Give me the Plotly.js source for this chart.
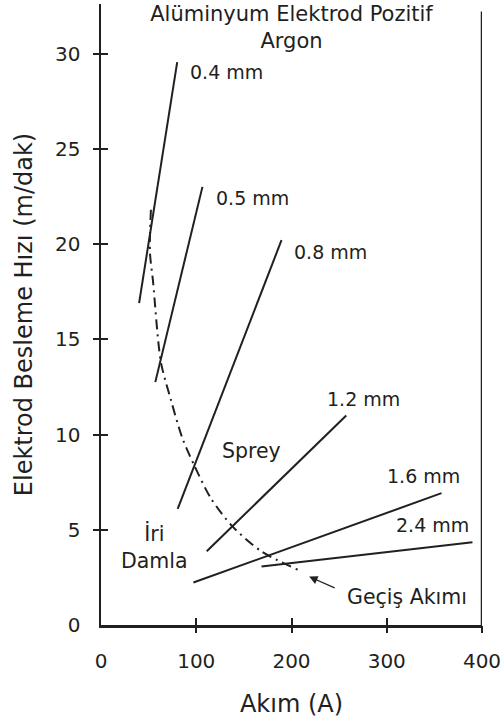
<!DOCTYPE html>
<html>
<head>
<meta charset="utf-8">
<script src="https://cdn.plot.ly/plotly-3.0.1.min.js"></script>
<style>html,body{margin:0;padding:0;background:#fff;}#chart{width:502px;height:722px;}</style>
</head>
<body>
<div id="chart"></div>
<script>
// Wire diameters and their operating lines (current A -> wire feed speed m/dak)
const diameters = ['0.4 mm', '0.5 mm', '0.8 mm', '1.2 mm', '1.6 mm', '2.4 mm'];
const currentStart = [40, 57, 80.5, 111, 97, 168.5];
const currentEnd = [80, 106.5, 189.5, 257.5, 357.5, 390];
const speedStart = [16.9, 12.75, 6.1, 3.87, 2.23, 3.07];
const speedEnd = [29.55, 23.0, 20.2, 11.0, 6.92, 4.35];

// Transition current curve (Geçiş Akımı)
const transitionCurrent = [52.4, 51.4, 54.5, 62.9, 73.4, 85.0, 97.6, 115.4, 138.5, 168.9, 206.6];
const transitionSpeed = [21.8, 19.55, 18.1, 13.8, 11.82, 9.87, 8.41, 6.65, 5.15, 3.85, 2.9];

// Axis ticks
const xTicks = [0, 100, 200, 300, 400];
const yTicks = [0, 5, 10, 15, 20, 25, 30];

const ink = '#231f20';
const font = 'DejaVu Sans, Verdana, sans-serif';

const traces = [];
diameters.forEach((d, i) => {
  traces.push({
    x: [currentStart[i], currentEnd[i]],
    y: [speedStart[i], speedEnd[i]],
    mode: 'lines', type: 'scatter', name: d,
    line: {color: ink, width: 2},
    hoverinfo: 'skip', showlegend: false
  });
});
traces.push({
  x: transitionCurrent, y: transitionSpeed,
  mode: 'lines', type: 'scatter', name: 'Geçiş Akımı',
  line: {color: ink, width: 2, dash: '10px,5px,2px,5px', shape: 'spline', smoothing: 0.8},
  hoverinfo: 'skip', showlegend: false
});
// helper traces so overlay tick axes are drawn
traces.push({x: [0], y: [0], xaxis: 'x2', yaxis: 'y2', mode: 'markers', marker: {opacity: 0}, hoverinfo: 'skip', showlegend: false});
traces.push({x: [0], y: [0], xaxis: 'x3', yaxis: 'y3', mode: 'markers', marker: {opacity: 0}, hoverinfo: 'skip', showlegend: false});

const xRange = [0, 400];
const yRange = [0, 32.6];

const tickAxisBase = {showgrid: false, zeroline: false, showticklabels: false, showline: false, tickcolor: ink, tickwidth: 2, ticklen: 7, fixedrange: true};

const annFont = {family: font, size: 19, color: ink};
const bigFont = {family: font, size: 20.5, color: ink};

const labelPos = [
  {x: 91.6, y: 29.04, xanchor: 'left'},
  {x: 118.5, y: 22.44, xanchor: 'left'},
  {x: 200.4, y: 19.56, xanchor: 'left'},
  {x: 235, y: 11.84, xanchor: 'left'},
  {x: 297.9, y: 7.83, xanchor: 'left'},
  {x: 388.9, y: 5.25, xanchor: 'right'}
];

const annotations = diameters.map((d, i) => ({
  text: d, x: labelPos[i].x, y: labelPos[i].y, xref: 'x', yref: 'y',
  xanchor: labelPos[i].xanchor, yanchor: 'middle', showarrow: false, font: annFont
}));
annotations.push({text: 'Sprey', x: 158.4, y: 9.16, xref: 'x', yref: 'y', showarrow: false, font: bigFont});
annotations.push({text: 'İri<br>Damla', x: 56.6, y: 4.1, xref: 'x', yref: 'y', showarrow: false, font: bigFont});
annotations.push({text: 'Geçiş Akımı', x: 321, y: 1.49, xref: 'x', yref: 'y', showarrow: false, font: bigFont});
annotations.push({text: '', x: 218.5, y: 2.54, xref: 'x', yref: 'y', showarrow: true,
  ax: 27, ay: 12, arrowhead: 2, arrowsize: 1.3, arrowwidth: 1.3, arrowcolor: ink, standoff: 0});

const layout = {
  width: 502, height: 722,
  margin: {l: 101, r: 20, t: 4, b: 97},
  paper_bgcolor: '#ffffff', plot_bgcolor: '#ffffff',
  font: {family: font, color: ink, size: 20},
  showlegend: false,
  title: {
    text: 'Alüminyum Elektrod Pozitif<br>Argon',
    x: 0.5, xref: 'paper', xanchor: 'center',
    y: 0.971, yref: 'container', yanchor: 'top',
    font: {family: font, size: 21, color: ink}
  },
  xaxis: {
    range: xRange, tickvals: xTicks, ticktext: xTicks.map(String), ticks: '',
    showgrid: false, zeroline: false, showline: true, linecolor: ink, linewidth: 2.5,
    tickfont: {family: font, size: 20, color: ink}, ticklabelstandoff: 16,
    title: {text: 'Akım (A)', font: {family: font, size: 24, color: ink}, standoff: 24},
    fixedrange: true
  },
  yaxis: {
    range: yRange, tickvals: yTicks, ticktext: yTicks.map(String), ticks: '',
    showgrid: false, zeroline: false, showline: true, linecolor: ink, linewidth: 2.5,
    tickfont: {family: font, size: 20, color: ink}, ticklabelstandoff: 14,
    title: {text: 'Elektrod Besleme Hızı (m/dak)', font: {family: font, size: 24, color: ink}, standoff: 16},
    fixedrange: true
  },
  xaxis2: Object.assign({}, tickAxisBase, {overlaying: 'x', range: xRange, tickvals: [100, 200, 300, 400], ticks: 'outside', anchor: 'y2'}),
  yaxis2: Object.assign({}, tickAxisBase, {overlaying: 'y', range: yRange, tickvals: [5, 10, 15, 20, 25, 30], ticks: 'outside', anchor: 'x2'}),
  xaxis3: Object.assign({}, tickAxisBase, {overlaying: 'x', range: xRange, tickvals: [100, 200, 300], ticks: 'inside', anchor: 'y3'}),
  yaxis3: Object.assign({}, tickAxisBase, {overlaying: 'y', range: yRange, tickvals: [5, 10, 15, 20, 25, 30], ticks: 'inside', anchor: 'x3'}),
  shapes: [
    {type: 'line', xref: 'x', yref: 'y', x0: 400, x1: 400, y0: 0, y1: 32.2, line: {color: ink, width: 2.5}}
  ],
  annotations: annotations
};

Plotly.newPlot('chart', traces, layout, {staticPlot: true, displayModeBar: false});
</script>
</body>
</html>
